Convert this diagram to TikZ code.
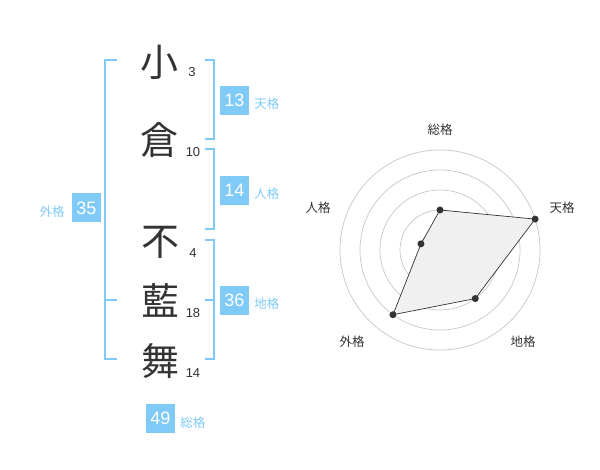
\documentclass[tikz,border=0pt]{standalone}
\usepackage{fontspec}
\setmainfont{Liberation Sans}
\newfontfamily\jp{Noto Sans CJK JP}
\usetikzlibrary{positioning}
\usetikzlibrary{calc}
\definecolor{kakublue}{RGB}{128,202,248}
\definecolor{inkgray}{RGB}{51,51,51}
\tikzset{
    kanji/.style = {inner sep=0pt, text=inkgray, font=\jp\fontsize{38}{38}\selectfont},
    strokes/.style = {inner sep=0pt, text=inkgray, font=\fontsize{13}{13}\selectfont},
    kakubox/.style = {rectangle, fill=kakublue, text=white, inner sep=0pt, minimum width=29pt, minimum height=29pt, font=\fontsize{18}{18}\selectfont},
    kakulabel/.style = {inner sep=0pt, text=kakublue, font=\jp\fontsize{12.5}{12.5}\selectfont},
    bracket/.style = {draw=kakublue, line width=2pt},
    ring/.style = {draw=black!22, line width=0.7pt},
    radarlabel/.style = {inner sep=0pt, text=inkgray, font=\jp\fontsize{12.5}{12.5}\selectfont},
    radardot/.style = {circle, fill=inkgray, inner sep=0pt, minimum size=7pt},
    area/.style = {draw=inkgray, line width=0.7pt, fill=black!6}
}

\begin{document}
\begin{tikzpicture}[x=1pt,y=-1pt]
\useasboundingbox (0,0) rectangle (600,470);

% name characters and stroke counts
\node[kanji] at (159, 62) (sho) {小};
\node[kanji] at (159,140) (kura) {倉};
\node[kanji] at (160,242) (fu) {不};
\node[kanji] at (160,300) (ai) {藍};
\node[kanji] at (160,361) (mai) {舞};
\node[strokes] at (192, 72) (n1) {3};
\node[strokes] at (193,152) (n2) {10};
\node[strokes] at (193,253) (n3) {4};
\node[strokes] at (193,313) (n4) {18};
\node[strokes] at (193,373) (n5) {14};

% brackets
\draw[bracket] (117,60) -- (105,60) -- (105,359) -- (117,359);
\draw[bracket] (105,300) -- (117,300);
\draw[bracket] (205,60) -- (214,60) -- (214,139) -- (205,139);
\draw[bracket] (205,149) -- (214,149) -- (214,229) -- (205,229);
\draw[bracket] (205,240) -- (214,240) -- (214,359) -- (205,359);
\draw[bracket] (205,300) -- (214,300);

% totals
\node[kakubox] at ( 86.5,208) (gai) {35};
\node[kakubox] at (234.5,100.5) (ten) {13};
\node[kakubox] at (234.5,190.5) (jin) {14};
\node[kakubox] at (234.5,300.5) (chi) {36};
\node[kakubox] at (160.5,418.5) (so) {49};
\node[kakulabel, left=7pt of gai, yshift=-4pt] (gail) {外格};
\node[kakulabel, right=5pt of ten, yshift=-3pt] (tenl) {天格};
\node[kakulabel, right=5pt of jin, yshift=-3pt] (jinl) {人格};
\node[kakulabel, right=5pt of chi, yshift=-3pt] (chil) {地格};
\node[kakulabel, right=5pt of so, yshift=-4pt] (sol) {総格};

% radar chart
\coordinate (c) at (440,250);
\foreach \r in {20,40,60,80,100}
    \draw[ring] (c) circle (\r pt);
\fill[black!22] (c) circle (3.5pt);
\coordinate (pso)  at ($(c)+(90:40pt)$);
\coordinate (pten) at ($(c)+(18:100pt)$);
\coordinate (pchi) at ($(c)+(-54:60pt)$);
\coordinate (pgai) at ($(c)+(-126:80pt)$);
\coordinate (pjin) at ($(c)+(162:20pt)$);
\draw[area] (pso) -- (pten) -- (pchi) -- (pgai) -- (pjin) -- cycle;
\foreach \p in {pso,pten,pchi,pgai,pjin}
    \node[radardot] at (\p) {};
\node[radarlabel] at (440,130) (rso) {総格};
\node[radarlabel] at (562,208) (rten) {天格};
\node[radarlabel] at (523,342) (rchi) {地格};
\node[radarlabel] at (352,342) (rgai) {外格};
\node[radarlabel] at (318,208) (rjin) {人格};

\end{tikzpicture}
\end{document}
